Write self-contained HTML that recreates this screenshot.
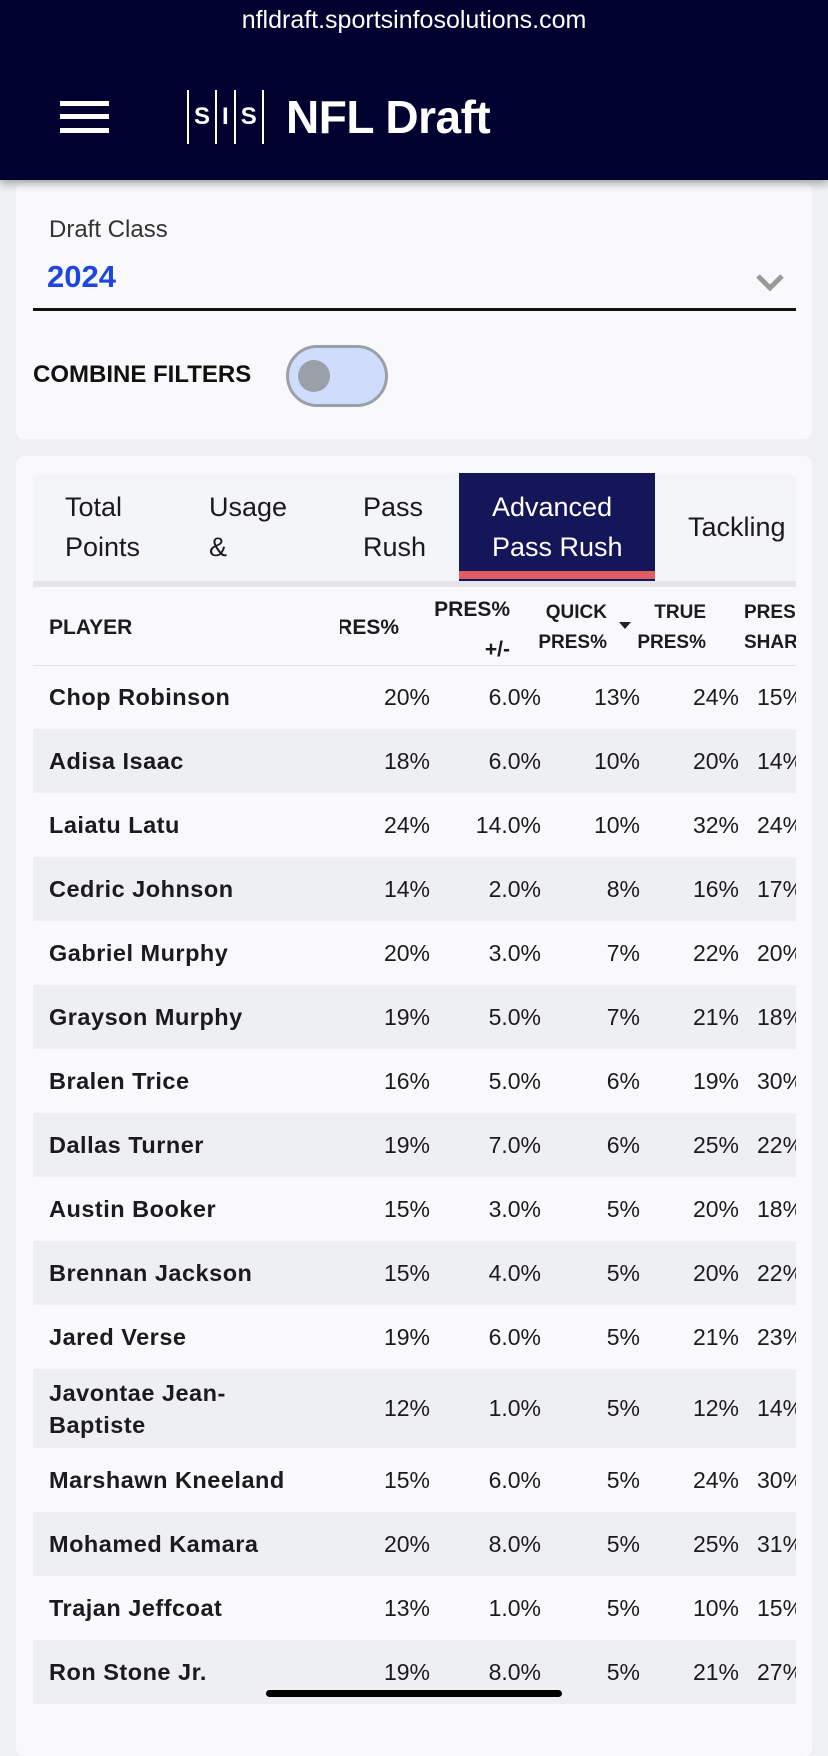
<!DOCTYPE html>
<html><head><meta charset="utf-8"><style>
*{margin:0;padding:0;box-sizing:border-box}
body{width:828px;height:1703px;background:#eff0f3;font-family:"Liberation Sans",sans-serif;position:relative;overflow:hidden;color:#1a1a1f}
.hdr{position:absolute;left:0;top:0;width:828px;height:180px;background:#020230;box-shadow:0 4px 8px rgba(0,0,0,.3);z-index:2}
.url{position:absolute;top:6px;width:100%;text-align:center;color:#fff;font-size:25px}
.ham{position:absolute;left:60px;width:49px;height:5px;background:#fff}
.logo{position:absolute;left:187px;top:90px;height:54px;color:#fff;font-weight:bold;font-size:24px;display:flex;align-items:center}
.logo span{border-left:2px solid #fff;height:54px;display:flex;align-items:center;padding:0 5px}
.nfl{position:absolute;left:286px;top:90px;color:#fff;font-weight:bold;font-size:46px;letter-spacing:-0.5px}
.card{position:absolute;left:16px;width:796px;background:#f9f9fc;border-radius:8px}
.abs{position:absolute}
.tabs{position:absolute;left:33px;top:473px;width:763px;height:108px;background:#f4f5f9;border-radius:10px 10px 0 0;overflow:hidden}
.tab{position:absolute;top:14px;font-size:27px;line-height:40px;color:#1a1a1f}
.row{position:absolute;left:33px;width:763px;height:64px;font-size:23px}
.row.g{background:#eeeff3}
.row div{position:absolute;top:0;height:100%;display:flex;align-items:center}
.nm{left:16px;font-weight:bold;letter-spacing:0.5px;font-size:23.5px}
.c{justify-content:flex-end}
.th{position:absolute;font-weight:bold;font-size:21px;text-align:right;line-height:30px;color:#1a1a1f}
</style></head><body>
<div class="hdr">
<div class="url">nfldraft.sportsinfosolutions.com</div>
<div class="ham" style="top:101px"></div><div class="ham" style="top:114px"></div><div class="ham" style="top:128px"></div>
<div class="logo"><span>S</span><span>I</span><span style="border-right:2px solid #fff">S</span></div>
<div class="nfl">NFL Draft</div>
</div>
<div class="card" style="top:183px;height:256px"></div>
<div class="abs" style="left:49px;top:216px;font-size:24px;color:#333">Draft Class</div>
<div class="abs" style="left:47px;top:259px;font-size:31px;font-weight:bold;color:#1f45e0">2024</div>
<svg class="abs" style="left:755px;top:272px" width="30" height="20"><path d="M3 4 L15 16 L27 4" stroke="#999" stroke-width="5" fill="none"/></svg>
<div class="abs" style="left:33px;top:308px;width:763px;height:3px;background:#111"></div>
<div class="abs" style="left:33px;top:361px;font-size:24px;font-weight:bold;color:#111">COMBINE FILTERS</div>
<div class="abs" style="left:286px;top:345px;width:102px;height:62px;border-radius:31px;background:#cfdcfc;border:3px solid #9aa0a8"></div>
<div class="abs" style="left:298px;top:360px;width:32px;height:32px;border-radius:50%;background:#9aa0a8"></div>
<div class="card" style="top:456px;height:1300px"></div>
<div class="tabs">
<div class="tab" style="left:32px">Total<br>Points</div>
<div class="tab" style="left:176px">Usage<br>&amp;</div>
<div class="tab" style="left:330px">Pass<br>Rush</div>
<div class="abs" style="left:426px;top:0;width:196px;height:108px;background:#15155a"></div>
<div class="abs" style="left:426px;top:98px;width:196px;height:8px;background:#e05c60"></div>
<div class="tab" style="left:459px;color:#fff">Advanced<br>Pass Rush</div>
<div class="tab" style="left:655px;top:34px">Tackling</div>
</div>
<div class="abs" style="left:33px;top:581px;width:763px;height:6px;background:#e4e5e9"></div>
<div class="abs" style="left:33px;top:665px;width:763px;height:1px;background:#e2e3e7"></div>
<div class="th" style="left:49px;top:613px">PLAYER</div>
<div class="abs" style="left:340px;top:613px;width:59px;height:30px;overflow:hidden"><div style="position:absolute;right:0;top:0;font-weight:bold;font-size:21px;line-height:30px;white-space:nowrap">PRES%</div></div>
<div class="th" style="right:318px;top:590px;line-height:40px">PRES%<br>+/-</div>
<div class="th" style="right:221px;top:598px;font-size:19px">QUICK<br>PRES%</div>
<div class="abs" style="left:619px;top:622px;width:0;height:0;border-left:6px solid transparent;border-right:6px solid transparent;border-top:7px solid #222"></div>
<div class="th" style="right:122px;top:598px;font-size:19px">TRUE<br>PRES%</div>
<div class="abs" style="left:744px;top:598px;width:52px;overflow:hidden;font-weight:bold;font-size:19px;line-height:30px;white-space:nowrap">PRES<br>SHARE</div>
<div id="rows"></div>
<script>
var d=[["Chop Robinson","20%","6.0%","13%","24%","15%"],["Adisa Isaac","18%","6.0%","10%","20%","14%"],["Laiatu Latu","24%","14.0%","10%","32%","24%"],["Cedric Johnson","14%","2.0%","8%","16%","17%"],["Gabriel Murphy","20%","3.0%","7%","22%","20%"],["Grayson Murphy","19%","5.0%","7%","21%","18%"],["Bralen Trice","16%","5.0%","6%","19%","30%"],["Dallas Turner","19%","7.0%","6%","25%","22%"],["Austin Booker","15%","3.0%","5%","20%","18%"],["Brennan Jackson","15%","4.0%","5%","20%","22%"],["Jared Verse","19%","6.0%","5%","21%","23%"],["Javontae Jean-<br>Baptiste","12%","1.0%","5%","12%","14%"],["Marshawn Kneeland","15%","6.0%","5%","24%","30%"],["Mohamed Kamara","20%","8.0%","5%","25%","31%"],["Trajan Jeffcoat","13%","1.0%","5%","10%","15%"],["Ron Stone Jr.","19%","8.0%","5%","21%","27%"]];
var y=665,h="";
d.forEach(function(r,i){var ht=i==11?79:64;
h+='<div class="row'+(i%2?' g':'')+'" style="top:'+y+'px;height:'+ht+'px"><div class="nm" style="line-height:32px">'+r[0]+'</div>'+
'<div class="c" style="right:366px">'+r[1]+'</div><div class="c" style="right:255px">'+r[2]+'</div><div class="c" style="right:156px">'+r[3]+'</div><div class="c" style="right:57px">'+r[4]+'</div><div style="left:724px;width:39px;overflow:hidden;white-space:nowrap">'+r[5]+'</div></div>';
y+=ht;});
document.getElementById('rows').innerHTML=h;
</script>
<div class="abs" style="left:266px;top:1690px;width:296px;height:7px;border-radius:4px;background:#000"></div>
</body></html>
